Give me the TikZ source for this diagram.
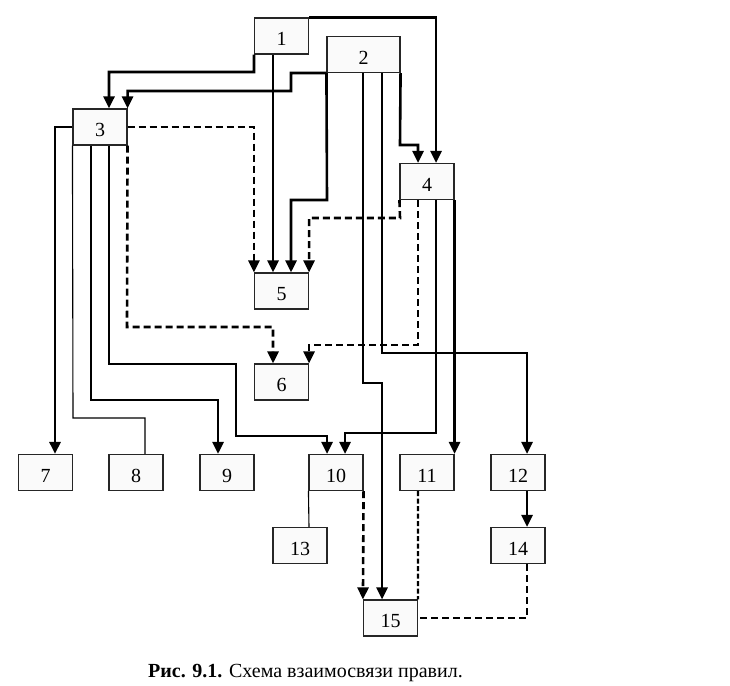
\documentclass[tikz,border=0pt]{standalone}
\usepackage{fontspec}
\setmainfont{Liberation Serif}
\usetikzlibrary{arrows.meta}
\begin{document}
\begin{tikzpicture}[x=1pt,y=-1pt,
  box/.style={draw=black!85,fill=black!2,line width=1.1pt,minimum width=54pt,minimum height=36pt,inner sep=0pt,text height=19pt,text depth=0pt,font=\fontsize{20}{23}\selectfont},
  wide/.style={minimum width=73pt},
  conn/.style={line width=2.6pt,line join=miter},
  thinconn/.style={line width=1.1pt},
  arr/.style={-{Triangle[length=12pt,width=11pt]}},
  dsh/.style={line width=2.6pt,dash pattern=on 7pt off 4pt},
  fdsh/.style={line width=2.2pt,dash pattern=on 5pt off 2.5pt},
]
\useasboundingbox (0,0) rectangle (730,685);
\node[box] (n1) at (281.5,36) {1};
\node[box,wide] (n2) at (363.5,54.5) {2};
\node[box] (n3) at (100,127) {3};
\node[box] (n4) at (427,181.5) {4};
\node[box] (n5) at (281.5,291) {5};
\node[box] (n6) at (281.5,382) {6};
\node[box] (n7) at (45.5,472.5) {7};
\node[box] (n8) at (136,472.5) {8};
\node[box] (n9) at (227,472.5) {9};
\node[box] (n10) at (336,472.5) {10};
\node[box] (n11) at (427,472.5) {11};
\node[box] (n12) at (518,472.5) {12};
\node[box] (n13) at (300,545.5) {13};
\node[box] (n14) at (518,545.5) {14};
\node[box] (n15) at (390.5,618) {15};
\node[font=\fontsize{20}{23}\selectfont,anchor=center] (cap) at (305.5,673) {\textbf{Рис. 9.1.} Схема взаимосвязи правил.};
% from 1
\draw[conn,arr] (n1.north east) -| ([xshift=9pt]n4.north);
\draw[conn,arr] (n1.south west) -- (254,72) -| ([xshift=9pt]n3.north);
\draw[conn,arr] ([xshift=-8.5pt]n1.south) -- ([xshift=-8.5pt]n5.north);
% from 2
\draw[conn,arr] (n2.south west) -- (291,73) -- (291,91) -| (n3.north east);
\draw[conn,arr] (n2.south west) -- (327,200) -| ([xshift=9.5pt]n5.north);
\draw[conn,arr] (n2.south east) -- (400,145) -| ([xshift=-9pt]n4.north);
\draw[conn,arr] ([xshift=-0.5pt]n2.south) -- (363,383) -| ([xshift=-8.5pt]n15.north);
\draw[conn,arr] ([xshift=18.5pt]n2.south) -- (382,353) -| ([xshift=9pt]n12.north);
% from 3
\draw[conn,arr] (n3.west) -| ([xshift=9.5pt]n7.north);
\draw[thinconn] (n3.south west) -- (73,418) -| ([xshift=9pt]n8.north);
\draw[conn,arr] ([xshift=-9pt]n3.south) -- (91,400) -| ([xshift=-9pt]n9.north);
\draw[conn,arr] ([xshift=9pt]n3.south) -- (109,364) -- (236,364) -- (236,436) -| ([xshift=-9pt]n10.north);
\draw[dsh,arr] (n3.east) -| (n5.north west);
\draw[dsh,arr] (n3.south east) -- (127,327) -| ([xshift=-8.5pt]n6.north);
% from 4
\draw[dsh,arr] (n4.south west) -- (400,218) -| (n5.north east);
\draw[dsh,arr] ([xshift=-9pt]n4.south) -- (418,345) -| (n6.north east);
\draw[conn,arr] ([xshift=9pt]n4.south) -- (436,433) -| ([xshift=9pt]n10.north);
\draw[conn,arr] (n4.south east) -- (n11.north east);
% lower part
\draw[thinconn] (n10.south west) -- ([xshift=9pt]n13.north);
\draw[dsh,arr] (n10.south east) -- (n15.north west);
\draw[fdsh] ([xshift=-9pt]n11.south) -- (n15.north east);
\draw[conn,arr] ([xshift=9pt]n12.south) -- ([xshift=9pt]n14.north);
\draw[dsh] ([xshift=9pt]n14.south) |- (n15.east);
\end{tikzpicture}
\end{document}
